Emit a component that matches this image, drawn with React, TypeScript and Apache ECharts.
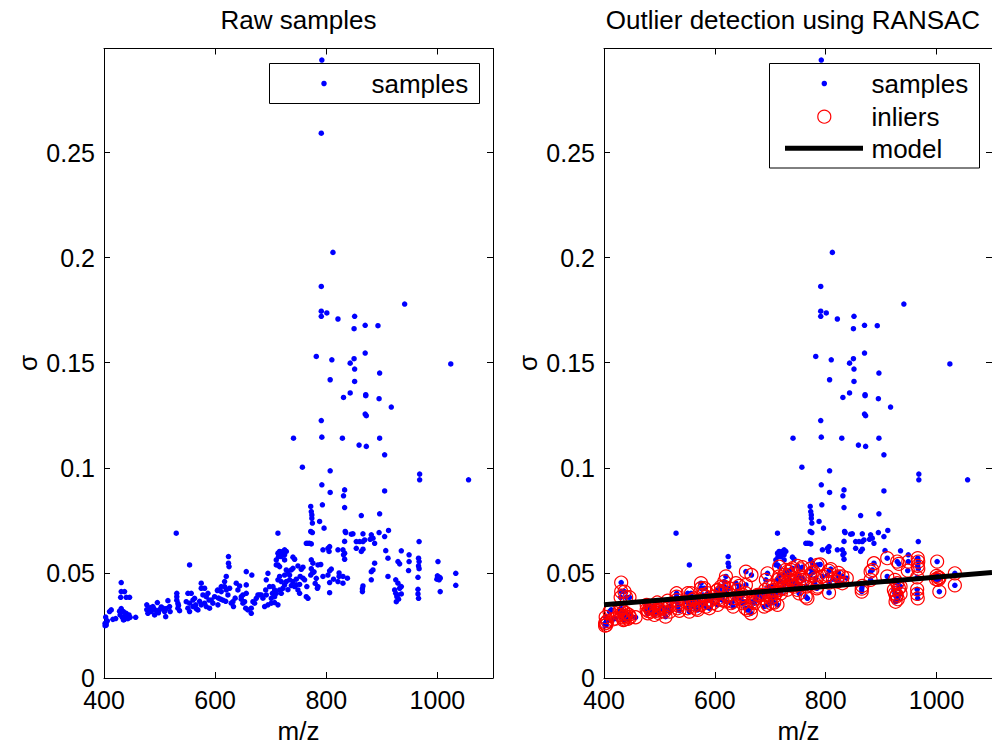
import React, { useEffect, useRef } from "react";
import * as echarts from "echarts";

// ---- data (m/z, sigma) ----
const samplesBelow600: [number, number][] = [
  [402, 0.026], [402, 0.0249], [403, 0.029], [404, 0.0263], [404, 0.0252], [406, 0.0272], [410, 0.0316], [413, 0.0324], [416, 0.0279], [421, 0.0283],
  [431, 0.0454], [431, 0.0411], [437, 0.0411], [430, 0.0384], [440, 0.0384], [446, 0.0384], [431, 0.033], [435, 0.0316], [429, 0.03], [433, 0.0289],
  [437, 0.0279], [440, 0.0292], [445, 0.03], [447, 0.0289], [440, 0.0308], [435, 0.0276], [438, 0.0296], [443, 0.0282], [428, 0.0318], [457, 0.0289],
  [477, 0.0348], [477, 0.0325], [479, 0.0308], [482, 0.0332], [485, 0.0316], [488, 0.034], [491, 0.03], [496, 0.0359], [500, 0.0325], [506, 0.0332],
  [509, 0.0316], [512, 0.033], [515, 0.0368], [518, 0.034], [519, 0.0316], [511, 0.0292], [490, 0.0329], [484, 0.0335], [494, 0.032], [503, 0.0338],
  [480, 0.0318], [498, 0.031],
  [530, 0.0689], [531, 0.0403], [531, 0.0387], [533, 0.0355], [533, 0.0332], [536, 0.032], [531, 0.037], [534, 0.0345],
  [554, 0.0538], [551, 0.0403], [557, 0.0403], [548, 0.0363], [554, 0.0356], [560, 0.0371], [551, 0.0332], [554, 0.0316], [560, 0.034], [565, 0.0348],
  [569, 0.0324], [563, 0.0379], [575, 0.0451], [575, 0.0427], [581, 0.0427], [578, 0.0395], [584, 0.0387], [587, 0.0403], [589, 0.0371], [581, 0.0356],
  [584, 0.034], [575, 0.0348], [590, 0.0332], [593, 0.0371], [596, 0.0356], [599, 0.0387], [572, 0.0365], [566, 0.033],
];

const samples600to700: [number, number][] = [
  [604, 0.0416], [605, 0.0419], [606, 0.038], [610, 0.0375], [605, 0.0348], [611, 0.0411], [611, 0.0435], [617, 0.0459], [617, 0.0435], [620, 0.0483],
  [620, 0.0419], [626, 0.0427], [623, 0.0395], [624, 0.0578], [624, 0.0546], [625, 0.053], [638, 0.0451], [644, 0.0438], [641, 0.0419], [647, 0.0387],
  [650, 0.0395], [632, 0.0363], [633, 0.034], [629, 0.0356], [614, 0.037], [619, 0.0365], [636, 0.038],
  [656, 0.0506], [666, 0.049], [656, 0.0443], [656, 0.0403], [653, 0.0363], [655, 0.0332], [659, 0.0324], [665, 0.0332], [665, 0.0308], [668, 0.0363],
  [671, 0.0356], [674, 0.0379], [677, 0.0395], [680, 0.0395], [683, 0.0395], [692, 0.0467], [695, 0.0498], [698, 0.0435], [691, 0.0419], [692, 0.0395],
  [689, 0.034], [695, 0.0348], [647, 0.0375], [650, 0.0356], [686, 0.038],
];

const samples700to800: [number, number][] = [
  [701, 0.0356], [701, 0.0379], [703, 0.0403], [704, 0.0435],
  [713, 0.0689], [710, 0.0562], [713, 0.0594], [714, 0.0578], [716, 0.0602], [719, 0.0597], [722, 0.0602], [725, 0.061], [725, 0.0586], [728, 0.0602],
  [719, 0.0578], [725, 0.0562], [710, 0.0538], [713, 0.0538], [716, 0.053], [716, 0.0483], [713, 0.0467], [719, 0.0459], [722, 0.0427], [725, 0.049],
  [728, 0.0514], [731, 0.0506], [737, 0.0514], [740, 0.0522], [734, 0.049], [740, 0.0459], [743, 0.0435], [746, 0.0443], [749, 0.0419], [752, 0.0403],
  [734, 0.0467], [728, 0.0459], [725, 0.0443], [716, 0.0419], [719, 0.0403], [710, 0.0403], [707, 0.0419], [707, 0.0387], [740, 0.0575], [743, 0.0565],
  [749, 0.0533], [755, 0.0517], [758, 0.0527], [753, 0.0483], [758, 0.0475], [761, 0.0467], [765, 0.0435], [764, 0.0387], [767, 0.0379], [713, 0.0348],
  [707, 0.0359], [764, 0.0641], [770, 0.0641], [731, 0.042], [737, 0.044], [746, 0.047], [752, 0.0445],
  [772, 0.0816], [773, 0.0792], [774, 0.0776], [774, 0.076], [775, 0.0737], [772, 0.0697], [775, 0.0692], [767, 0.0641], [773, 0.0638], [773, 0.0562],
  [776, 0.0546], [785, 0.0538], [782, 0.0474], [788, 0.0745], [796, 0.0713], [792, 0.0919], [793, 0.0824], [785, 0.0435], [784, 0.0427], [790, 0.054],
  [773, 0.052], [775, 0.05], [778, 0.0505], [772, 0.049], [780, 0.045],
];

const samples800to900: [number, number][] = [
  [794, 0.061], [803, 0.0617], [806, 0.0625], [805, 0.0602], [821, 0.061], [830, 0.061], [833, 0.0594], [831, 0.0586], [807, 0.0883], [794, 0.0483],
  [803, 0.049], [806, 0.051], [809, 0.0518], [823, 0.05], [823, 0.0483], [830, 0.0483], [830, 0.0451], [821, 0.0459], [806, 0.0454], [806, 0.0406],
  [833, 0.0895], [831, 0.0867], [833, 0.0811], [834, 0.0697], [835, 0.0692], [833, 0.065], [813, 0.047], [838, 0.0475], [833, 0.0565],
  [845, 0.0684], [848, 0.0686], [854, 0.0649], [854, 0.0617], [860, 0.0649], [866, 0.0649], [869, 0.0657], [866, 0.0686], [863, 0.0602], [866, 0.0613],
  [863, 0.0773], [881, 0.0681], [884, 0.0665], [879, 0.066], [887, 0.0641], [887, 0.0546], [884, 0.0514], [881, 0.0506], [881, 0.0467], [866, 0.0438],
  [865, 0.0411], [865, 0.0425],
];

const samplesAbove900: [number, number][] = [
  [896, 0.0781], [895, 0.0692], [905, 0.0673], [912, 0.0702], [907, 0.0606], [911, 0.057], [911, 0.0483], [935, 0.0605], [949, 0.0586], [929, 0.0554],
  [932, 0.0543], [949, 0.0554], [948, 0.0511], [925, 0.0467], [929, 0.0451], [935, 0.0435], [932, 0.0427], [923, 0.0419], [925, 0.0403], [927, 0.0387],
  [926, 0.0363], [935, 0.04], [930, 0.0375], [928, 0.0395],
  [968, 0.097], [968, 0.0943], [1056, 0.0943], [967, 0.0649], [966, 0.057], [967, 0.0554], [966, 0.0533], [967, 0.052], [965, 0.0479], [965, 0.0422],
  [965, 0.04], [966, 0.0379], [1001, 0.0554], [1000, 0.0486], [1004, 0.0479], [999, 0.047], [1003, 0.0467], [1005, 0.0475], [1005, 0.0411], [1033, 0.0498],
  [1033, 0.0441],
];

const samplesHighSigma: [number, number][] = [
  [792, 0.294], [791, 0.2592], [812, 0.2025], [791, 0.1863], [941, 0.1779], [791, 0.1745], [801, 0.1737], [791, 0.1721], [821, 0.1708], [851, 0.1721],
  [850, 0.1662], [870, 0.1678], [893, 0.1676], [782, 0.153], [810, 0.1514], [843, 0.1498], [850, 0.1519], [870, 0.1546], [1024, 0.1494], [851, 0.147],
  [896, 0.1451], [807, 0.1419], [851, 0.1411], [843, 0.1356], [831, 0.1335], [871, 0.1348], [871, 0.1343], [895, 0.1329], [917, 0.1289], [791, 0.1225],
  [870, 0.1256], [872, 0.1248], [741, 0.1141], [792, 0.1146], [829, 0.1141], [896, 0.1141], [859, 0.1108], [872, 0.1102], [905, 0.1062], [757, 0.1003],
  [807, 0.0986], [905, 0.089],
];

// RANSAC model line (end points) and inlier distance threshold
const modelMz = [400, 1100];
const modelSigma = [0.0348, 0.0502];
const inlierThreshold = 0.0115;

const xTicks = { min: 400, max: 1100, interval: 200 };
const yTicks = { min: 0, max: 0.2995, interval: 0.05 };

const FONT = "'Liberation Sans', Arial, Helvetica, sans-serif";

const samples = [
  ...samplesBelow600,
  ...samples600to700,
  ...samples700to800,
  ...samples800to900,
  ...samplesAbove900,
  ...samplesHighSigma,
];

const modelAt = (x: number) =>
  modelSigma[0] + ((modelSigma[1] - modelSigma[0]) * (x - modelMz[0])) / (modelMz[1] - modelMz[0]);

const inliers = samples.filter(([x, y]) => Math.abs(y - modelAt(x)) <= inlierThreshold);

function makeAxes(gi: number) {
  const line = { show: true, onZero: false, lineStyle: { color: "#000", width: 1 } };
  const tick = { show: true, inside: true, length: 6, lineStyle: { color: "#000", width: 1 } };
  const label = { color: "#000", fontSize: 25, fontFamily: FONT, showMaxLabel: false, lineHeight: 19 };
  const x = [
    {
      type: "value", gridIndex: gi, ...xTicks, position: "bottom",
      axisLine: line, axisTick: tick, splitLine: { show: false },
      axisLabel: { ...label, margin: 12, formatter: (v: number) => String(v) },
    },
    {
      type: "value", gridIndex: gi, ...xTicks, position: "top",
      axisLine: line, axisTick: tick, splitLine: { show: false }, axisLabel: { show: false },
    },
  ];
  const y = [
    {
      type: "value", gridIndex: gi, ...yTicks, position: "left",
      axisLine: line, axisTick: tick, splitLine: { show: false },
      axisLabel: { ...label, margin: 9, formatter: (v: number) => String(Number(v.toFixed(2))) },
    },
    {
      type: "value", gridIndex: gi, ...yTicks, position: "right",
      axisLine: line, axisTick: tick, splitLine: { show: false }, axisLabel: { show: false },
    },
  ];
  return { x, y };
}

function text(x: number, y: number, s: string, size = 26, align = "center", rotation = 0) {
  return {
    type: "text", x, y, rotation,
    style: { text: s, fill: "#000", font: `${size}px ${FONT}`, textAlign: align, textVerticalAlign: "middle" },
    z: 100,
  };
}

export default function App() {
  const ref = useRef<HTMLDivElement>(null);
  useEffect(() => {
    if (!ref.current) return;
    const chart = echarts.init(ref.current, undefined, { renderer: "svg" });
    const a0 = makeAxes(0);
    const a1 = makeAxes(1);
    const blue = "#0000ff";
    const dot = { color: blue, opacity: 1 };
    const option: any = {
      animation: false,
      backgroundColor: "#fff",
      grid: [
        { left: 104, top: 48.5, width: 389, height: 629.5 },
        { left: 604, top: 48.5, width: 389, height: 629.5 },
      ],
      xAxis: [...a0.x, ...a1.x],
      yAxis: [...a0.y, ...a1.y],
      series: [
        {
          name: "samples", type: "scatter", xAxisIndex: 0, yAxisIndex: 0, data: samples,
          symbol: "circle", symbolSize: 5.5, itemStyle: dot, silent: true,
        },
        {
          name: "samples", type: "scatter", xAxisIndex: 2, yAxisIndex: 2, data: samples,
          symbol: "circle", symbolSize: 5.5, itemStyle: dot, silent: true,
        },
        {
          name: "inliers", type: "scatter", xAxisIndex: 2, yAxisIndex: 2, data: inliers,
          symbol: "circle", symbolSize: 13,
          itemStyle: { color: "rgba(0,0,0,0)", borderColor: "#ff0000", borderWidth: 1.2, opacity: 1 }, silent: true,
        },
        {
          name: "model", type: "line", xAxisIndex: 2, yAxisIndex: 2,
          data: modelMz.map((m, i) => [m, modelSigma[i]]),
          showSymbol: false, lineStyle: { color: "#000", width: 5 }, silent: true,
        },
      ],
      graphic: [
        text(298.5, 20, "Raw samples"),
        text(793, 20, "Outlier detection using RANSAC"),
        text(298.5, 731, "m/z"),
        text(798.5, 731, "m/z"),
        text(28, 363, "σ", 26, "center", Math.PI / 2),
        text(528, 363, "σ", 26, "center", Math.PI / 2),
        // left legend
        { type: "rect", shape: { x: 269.5, y: 63.5, width: 210, height: 40 }, style: { fill: "#fff", stroke: "#000", lineWidth: 1 }, z: 90 },
        { type: "circle", shape: { cx: 324, cy: 83.5, r: 2.75 }, style: { fill: blue }, z: 100 },
        text(371.5, 84, "samples", 26, "left"),
        // right legend
        { type: "rect", shape: { x: 769.5, y: 63.5, width: 210, height: 104.5 }, style: { fill: "#fff", stroke: "#000", lineWidth: 1 }, z: 90 },
        { type: "circle", shape: { cx: 824.3, cy: 83.5, r: 2.75 }, style: { fill: blue }, z: 100 },
        text(871.5, 84, "samples", 26, "left"),
        { type: "circle", shape: { cx: 824.3, cy: 116.7, r: 6.5 }, style: { fill: "none", stroke: "#ff0000", lineWidth: 1.2 }, z: 100 },
        text(871.5, 117, "inliers", 26, "left"),
        { type: "line", shape: { x1: 785, y1: 148.3, x2: 863, y2: 148.3 }, style: { stroke: "#000", lineWidth: 5 }, z: 100 },
        text(871.5, 149, "model", 26, "left"),
      ],
    };
    chart.setOption(option);
    return () => chart.dispose();
  }, []);
  return (
    <div
      ref={ref}
      style={{ position: "absolute", left: 0, top: 0, width: 992, height: 747, background: "#fff" }}
    />
  );
}
